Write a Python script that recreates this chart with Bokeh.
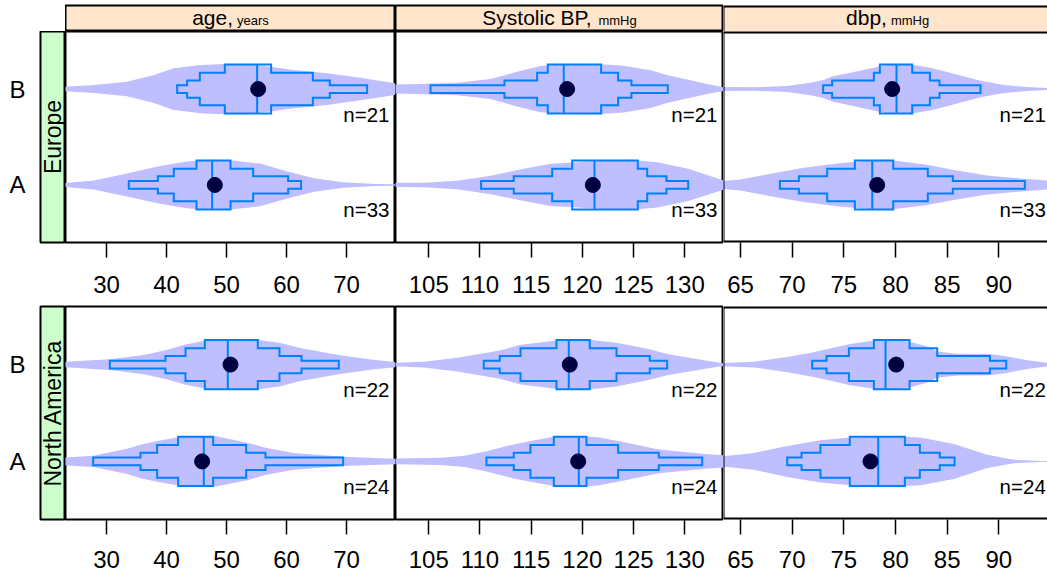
import math
from bokeh.plotting import figure
from bokeh.layouts import gridplot
from bokeh.models import Range1d, FixedTicker, Span
from bokeh.core.properties import value
from bokeh.embed import file_html
from bokeh.resources import INLINE

# ---------------- data ----------------
groups = ["A", "B"]
regions = ["Europe", "North America"]
measures = ["age", "sbp", "dbp"]
measure_label = ["age,", "Systolic BP,", "dbp,"]
measure_unit = ["years", "mmHg", "mmHg"]
age_ticks = [30, 40, 50, 60, 70]
sbp_ticks = [105, 110, 115, 120, 125, 130]
dbp_ticks = [65, 70, 75, 80, 85, 90]

panel_region = ["Europe"] * 6 + ["North America"] * 6
panel_measure = ["age", "age", "sbp", "sbp", "dbp", "dbp"] * 2
panel_group = ["A", "B"] * 6
n_obs = [33, 21, 33, 21, 33, 21, 24, 22, 24, 22, 24, 22]
means = [48.06, 55.28, 121.02, 118.51, 78.23, 79.68, 45.94, 50.67, 119.59, 118.77, 77.58, 80.07]
medians = [47.61, 55.11, 121.18, 118.18, 77.75, 80.10, 46.22, 50.22, 119.65, 118.67, 78.33, 79.04]
q050 = [33.72, 41.78, 110.11, 105.17, 68.81, 73.00, 27.78, 30.56, 110.63, 110.37, 69.52, 71.94]
q125 = [38.56, 43.44, 113.30, 112.39, 70.65, 73.87, 35.67, 39.83, 113.30, 111.93, 70.91, 73.33]
q250 = [41.22, 45.56, 117.05, 115.58, 73.39, 77.91, 38.44, 43.17, 114.93, 113.96, 72.74, 75.49]
q375 = [45.00, 49.72, 119.00, 116.62, 76.07, 78.49, 41.94, 46.39, 117.21, 117.47, 75.58, 77.91]
q625 = [50.67, 57.44, 125.41, 121.83, 79.78, 81.62, 47.78, 55.22, 120.40, 120.72, 80.91, 81.36]
q750 = [54.44, 64.39, 126.33, 123.49, 83.13, 83.33, 53.28, 58.83, 123.49, 123.33, 82.36, 84.04]
q875 = [60.28, 67.22, 128.21, 124.79, 85.55, 84.26, 56.50, 62.50, 127.46, 126.58, 84.29, 89.14]
q950 = [62.44, 73.44, 130.33, 128.34, 92.52, 88.23, 69.44, 68.72, 131.70, 128.28, 85.72, 90.72]

# violin outlines: value positions and relative density (max = 1)
violin_x = [
    [22.5, 27.9, 33.4, 38.9, 43.4, 47.2, 51.1, 55.6, 60.0, 64.4, 69.4, 75.0, 79.0],
    [22.5, 27.9, 33.4, 37.9, 41.2, 45.7, 49.6, 53.4, 57.3, 61.2, 66.8, 72.3, 79.0],
    [100.5, 104.52, 107.77, 111.03, 114.28, 116.89, 119.5, 122.42, 124.7, 127.3, 130.33, 132.18, 133.81, 134.5],
    [100.5, 103.87, 107.77, 111.03, 113.63, 115.91, 118.18, 121.44, 124.04, 126.65, 128.34, 130.55, 132.18, 133.81, 134.5],
    [62.5, 63.06, 65.0, 67.91, 71.13, 74.36, 77.59, 79.2, 83.07, 85.65, 88.88, 92.11, 94.69, 95.5],
    [62.5, 66.29, 69.52, 71.78, 73.0, 73.87, 77.91, 79.5, 81.62, 83.33, 84.26, 88.23, 90.5, 92.76, 94.69, 95.5],
    [22.5, 27.78, 33.44, 35.67, 38.44, 42.0, 45.0, 48.5, 53.28, 56.5, 61.2, 69.44, 79.0],
    [22.5, 30.56, 36.22, 39.83, 43.17, 47.0, 51.0, 55.22, 58.83, 62.5, 68.72, 74.0, 79.0],
    [100.5, 106.15, 108.5, 110.63, 113.3, 114.93, 117.2, 119.5, 121.5, 123.49, 127.46, 131.7, 134.5],
    [100.5, 104.52, 107.77, 110.37, 111.93, 113.96, 117.47, 119.5, 120.72, 123.33, 126.58, 128.28, 132.19, 133.81, 134.5],
    [62.5, 63.06, 66.29, 69.52, 72.74, 75.58, 79.2, 82.43, 85.65, 88.88, 91.46, 94.04, 95.5],
    [62.5, 66.29, 69.52, 71.94, 73.33, 75.49, 77.91, 79.84, 81.36, 83.0, 84.04, 86.0, 89.14, 90.72, 92.76, 94.69, 95.5],
]
violin_d = [
    [0.07, 0.18, 0.46, 0.75, 0.93, 1.0, 0.97, 0.85, 0.55, 0.28, 0.11, 0.04, 0.03],
    [0.08, 0.16, 0.29, 0.56, 0.83, 0.96, 1.0, 1.0, 0.89, 0.76, 0.63, 0.45, 0.2],
    [0.08, 0.09, 0.17, 0.37, 0.64, 0.84, 0.9, 0.97, 1.0, 0.9, 0.64, 0.4, 0.18, 0.12],
    [0.17, 0.2, 0.25, 0.4, 0.69, 0.92, 0.99, 1.0, 0.93, 0.75, 0.55, 0.35, 0.2, 0.07, 0.05],
    [0.13, 0.15, 0.22, 0.45, 0.68, 0.85, 0.97, 1.0, 0.8, 0.6, 0.38, 0.26, 0.18, 0.16],
    [0.08, 0.07, 0.12, 0.25, 0.36, 0.5, 0.85, 1.0, 0.97, 0.85, 0.76, 0.33, 0.16, 0.08, 0.04, 0.03],
    [0.15, 0.22, 0.5, 0.66, 0.8, 0.95, 1.0, 0.98, 0.75, 0.54, 0.33, 0.18, 0.1],
    [0.1, 0.21, 0.38, 0.57, 0.79, 0.97, 1.0, 0.97, 0.86, 0.64, 0.38, 0.2, 0.08],
    [0.11, 0.14, 0.22, 0.4, 0.67, 0.8, 0.97, 1.0, 0.95, 0.8, 0.47, 0.3, 0.22],
    [0.05, 0.11, 0.27, 0.45, 0.56, 0.78, 0.95, 1.0, 0.98, 0.86, 0.6, 0.42, 0.15, 0.05, 0.04],
    [0.18, 0.19, 0.33, 0.61, 0.83, 0.94, 1.0, 0.94, 0.69, 0.26, 0.07, 0.02, 0.01],
    [0.05, 0.11, 0.3, 0.48, 0.6, 0.8, 0.95, 1.0, 0.9, 0.72, 0.52, 0.43, 0.42, 0.33, 0.17, 0.07, 0.05],
]

# ---------------- style / layout ----------------
FONT = "Liberation Sans"
VIOLIN = "#BFBFFF"
BLUE = "#0080FF"
DOT = "#000040"
PEACH = "#FFE5CC"
GREEN = "#CCFFCC"

measure_ticks = [age_ticks, sbp_ticks, dbp_ticks]
COL_W = [330, 328, 324]
X_FULL = [(23.17, 78.17), (101.75, 133.78), (63.355, 95.13)]
FULL_PX = [330, 328, 328.3]
X_VIEW = [X_FULL[0], X_FULL[1], (63.355, 63.355 + 324 / 10.332)]
ROW_H = [274, 268]
MB_TOP = [0, 1]
MB_BOT = [63, 54]
Y_LO, Y_HI = 0.4, 2.6
HV = 0.262
BOX_H = [0.04, 0.09, 0.17, 0.255]
PX_PER_UNIT = [211 / 2.2, 213 / 2.2]

CHAR_W = {"a": 556, "g": 556, "e": 556, ",": 278, "y": 500, "r": 333, "s": 500,
          "S": 667, "t": 278, "o": 556, "l": 222, "i": 222, "c": 500, " ": 278,
          "B": 667, "P": 667, "m": 833, "H": 722, "d": 556, "b": 556, "p": 556}


def text_w(s, size):
    return sum(CHAR_W.get(ch, 556) for ch in s) / 1000.0 * size


x_ranges = [Range1d(*X_VIEW[i]) for i in range(3)]


def add_span(p, loc, dim, w):
    p.add_layout(Span(location=loc, dimension=dim, line_color="black", line_width=w))


def strip_fig(ci):
    p = figure(width=COL_W[ci], height=31, x_range=x_ranges[ci], y_range=Range1d(0, 1),
               output_backend="svg", toolbar_location=None,
               x_axis_location=None, y_axis_location=None,
               min_border_left=0, min_border_right=0, min_border_top=5, min_border_bottom=0)
    p.grid.visible = False
    p.background_fill_color = PEACH
    p.border_fill_color = "white"
    if ci < 2:
        p.outline_line_color = "black"
        p.outline_line_width = 2
    else:
        p.outline_line_color = None
        add_span(p, X_VIEW[ci][0], "height", 2)
        add_span(p, 1.0, "width", 4)
    big, small = measure_label[ci], measure_unit[ci]
    wb, ws, gap = text_w(big, 21), text_w(small, 13), 4
    total = wb + gap + ws
    center = (X_FULL[ci][0] + X_FULL[ci][1]) / 2
    p.text(x=[center], y=[0.52], text=[big], x_offset=-total / 2, text_align="left",
           text_baseline="middle", text_font=value(FONT), text_font_size="21px",
           text_color="black")
    p.text(x=[center], y=[0.52 - 0.092], text=[small], x_offset=-total / 2 + wb + gap,
           text_align="left", text_baseline="middle", text_font=value(FONT),
           text_font_size="13px", text_color="black")
    return p


def side_fig(ri):
    p = figure(width=65, height=ROW_H[ri], x_range=Range1d(0, 1), y_range=Range1d(Y_LO, Y_HI),
               output_backend="svg", toolbar_location=None,
               x_axis_location=None, y_axis_location="left",
               min_border_left=40, min_border_right=0, min_border_top=MB_TOP[ri],
               min_border_bottom=MB_BOT[ri])
    p.grid.visible = False
    p.background_fill_color = GREEN
    p.border_fill_color = "white"
    p.outline_line_color = "black"
    p.outline_line_width = 2
    ax = p.yaxis[0]
    ax.ticker = FixedTicker(ticks=[groups.index(g) + 1 for g in groups])
    ax.major_label_overrides = {groups.index(g) + 1: g for g in groups}
    ax.major_tick_in = 0
    ax.major_tick_out = 0
    ax.minor_tick_line_color = None
    ax.axis_line_color = None
    ax.major_label_text_font = FONT
    ax.major_label_text_font_size = "24px"
    ax.major_label_text_color = "black"
    ax.major_label_standoff = 15
    p.text(x=[0.5], y=[(Y_LO + Y_HI) / 2], text=[regions[ri]], angle=math.pi / 2,
           text_align="center", text_baseline="middle", text_font=value(FONT),
           text_font_size="23px", text_color="black")
    return p


def panel_fig(ri, ci):
    p = figure(width=COL_W[ci], height=ROW_H[ri], x_range=x_ranges[ci],
               y_range=Range1d(Y_LO, Y_HI), output_backend="svg", toolbar_location=None,
               x_axis_location="below", y_axis_location=None,
               min_border_left=0, min_border_right=0, min_border_top=MB_TOP[ri],
               min_border_bottom=MB_BOT[ri])
    p.grid.visible = False
    p.background_fill_color = "white"
    p.border_fill_color = "white"
    if ci < 2:
        p.outline_line_color = "black"
        p.outline_line_width = 2
    else:
        p.outline_line_color = None
        add_span(p, X_VIEW[ci][0], "height", 2)
        add_span(p, Y_HI, "width", 4)
        add_span(p, Y_LO, "width", 4)
    ax = p.xaxis[0]
    ax.ticker = FixedTicker(ticks=measure_ticks[ci])
    ax.minor_tick_line_color = None
    ax.major_tick_in = 0
    ax.major_tick_out = 15
    ax.major_tick_line_width = 1.5
    ax.major_tick_line_color = "black"
    ax.axis_line_color = None
    ax.major_label_text_font = FONT
    ax.major_label_text_font_size = "24px"
    ax.major_label_text_color = "black"
    ax.major_label_standoff = 18 if ri == 0 else 16

    region = regions[ri]
    measure = measures[ci]
    ppu = PX_PER_UNIT[ri]
    for k in range(len(panel_region)):
        if panel_region[k] != region or panel_measure[k] != measure:
            continue
        c = groups.index(panel_group[k]) + 1
        vx, vd = violin_x[k], violin_d[k]
        xs = vx + vx[::-1]
        ys = [c + d * HV for d in vd] + [c - d * HV for d in vd[::-1]]
        p.patch(xs, ys, fill_color=VIOLIN, line_color=None)

        qs = [q050[k], q125[k], q250[k], q375[k], q625[k], q750[k], q875[k], q950[k]]
        levels = BOX_H
        pts = [(qs[0], c)]
        for j in range(4):
            pts.append((qs[j], c + levels[j]))
            pts.append((qs[j + 1] if j < 3 else qs[4], c + levels[j]))
        for j in range(3, -1, -1):
            pts.append((qs[7 - j], c + levels[j]))
            if j > 0:
                pts.append((qs[7 - j], c + levels[j - 1]))
                pts.append((qs[8 - j], c + levels[j - 1]))
        pts.append((qs[7], c))
        lower = [(x, 2 * c - y) for (x, y) in pts[::-1]]
        outline = pts + lower
        p.patch([pt[0] for pt in outline], [pt[1] for pt in outline],
                fill_color=None, line_color=BLUE, line_width=2, line_join="miter")
        p.segment(x0=[medians[k]], y0=[c - BOX_H[3]], x1=[medians[k]], y1=[c + BOX_H[3]],
                  line_color=BLUE, line_width=2)
        p.scatter(x=[means[k]], y=[c], size=15, fill_color=DOT, line_color=DOT)
        off = -6 + (FULL_PX[ci] - COL_W[ci])
        p.text(x=[X_VIEW[ci][1]], y=[c - 25 / ppu], text=["n=%d" % n_obs[k]], x_offset=off,
               text_align="right", text_baseline="middle", text_font=value(FONT),
               text_font_size="20.5px", text_color="black")
    return p


rows = [[None] + [strip_fig(ci) for ci in range(3)]]
for ri in range(2):
    rows.append([side_fig(ri)] + [panel_fig(ri, ci) for ci in range(3)])

grid = gridplot(rows, toolbar_location=None)

open("out.html", "w").write(file_html(grid, INLINE))
